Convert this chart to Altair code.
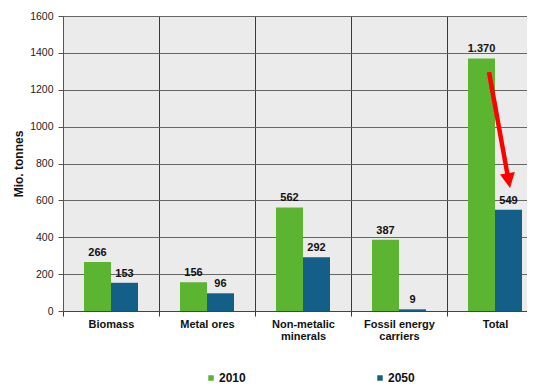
import altair as alt
import pandas as pd

categories = ["Biomass", "Metal ores", "Non-metalic minerals", "Fossil energy carriers", "Total"]
years = ["2010", "2050"]
values_2010 = [266, 156, 562, 387, 1370]
values_2050 = [153, 96, 292, 9, 549]
colors = ["#5cb531", "#135f88"]
y_ticks = [0, 200, 400, 600, 800, 1000, 1200, 1400, 1600]

# red arrow annotation in the "Total" group (values in Mio. tonnes)
arrow_start = 1296
arrow_line_end = 725
arrow_tip = 667


def fmt(v):
    return f"{v:,}".replace(",", ".")


rows = []
for c, a, b in zip(categories, values_2010, values_2050):
    rows.append({"category": c, "year": years[0], "value": a, "label": fmt(a)})
    rows.append({"category": c, "year": years[1], "value": b, "label": fmt(b)})
df = pd.DataFrame(rows)

arrow_df = pd.DataFrame({"category": ["Total"], "y0": [arrow_start], "y1": [arrow_line_end], "tip": [arrow_tip]})

label_expr = ("datum.label == 'Non-metalic minerals' ? ['Non-metalic', 'minerals'] : "
              "datum.label == 'Fossil energy carriers' ? ['Fossil energy', 'carriers'] : datum.label")

# the original plot area is wider than the picture: its last group is cut at the right edge
x_scale = alt.Scale(paddingInner=0, paddingOuter=0, range=[0, 480])
y_scale = alt.Scale(domain=[0, 1600], nice=False)

x_axis = alt.Axis(
    title=None, tickBand="extent", grid=True, gridColor="#3a3a3a", gridOpacity=1,
    tickSize=5, tickColor="#3a3a3a", domainColor="#444", labelAngle=0,
    labelFontWeight="bold", labelFontSize=11, labelColor="#111", labelPadding=2,
    labelLineHeight=12, labelExpr=label_expr,
)
y_axis = alt.Axis(
    values=y_ticks, tickCount=20, format="d", labelOverlap=False, labelFlush=False,
    title="Mio. tonnes", titleFontWeight="bold", titleFontSize=12,
    titlePadding=4, titleColor="#111", labelFontSize=10.5, labelPadding=5, labelColor="#222",
    tickSize=5, tickColor="#555", domainColor="#555", gridColor="#666", gridOpacity=1,
)

x = alt.X("category:N", sort=categories, scale=x_scale, axis=x_axis)
xo = alt.XOffset("year:N", sort=years, scale=alt.Scale(paddingOuter=0.778, paddingInner=0))

bars = alt.Chart(df).mark_bar().encode(
    x=x, xOffset=xo, y=alt.Y("value:Q", scale=y_scale, axis=y_axis),
    color=alt.Color(
        "year:N", sort=years, scale=alt.Scale(domain=years, range=colors),
        legend=alt.Legend(
            title=None, orient="none", direction="horizontal", legendX=142, legendY=356,
            symbolType="square", symbolSize=30, symbolStrokeWidth=0, labelFontSize=12,
            labelFontWeight="bold", labelColor="#111", columnPadding=128, labelOffset=2,
        ),
    ),
)

labels = alt.Chart(df).mark_text(baseline="bottom", dy=-4, fontWeight="bold", fontSize=11, color="#111").encode(
    x=x, xOffset=xo, y=alt.Y("value:Q", scale=y_scale, axis=y_axis), text="label:N",
)

arrow_line = alt.Chart(arrow_df).mark_rule(color="#ff0000", strokeWidth=4.5, xOffset=-6, x2Offset=13).encode(
    x=x, x2=alt.X2("category:N"),
    y=alt.Y("y0:Q", scale=y_scale, axis=y_axis), y2=alt.Y2("y1:Q"),
)

arrow_head = alt.Chart(arrow_df).mark_point(
    shape="M0,0 L-0.5,-1 L0.5,-1 Z", size=900, angle=350, filled=True, opacity=1,
    color="#ff0000", xOffset=15,
).encode(x=x, y=alt.Y("tip:Q", scale=y_scale, axis=y_axis))

chart = (
    alt.layer(bars, labels, arrow_line, arrow_head)
    .properties(
        width=464, height=295,
        padding={"left": 55, "top": 8, "right": 0, "bottom": 75},
        autosize=alt.AutoSizeParams(type="none"),
    )
    .configure(font="Liberation Sans")
    .configure_view(strokeWidth=0, fill="#ebebeb")
)

chart.save("out.html", embed_options={"renderer": "svg", "actions": False})
